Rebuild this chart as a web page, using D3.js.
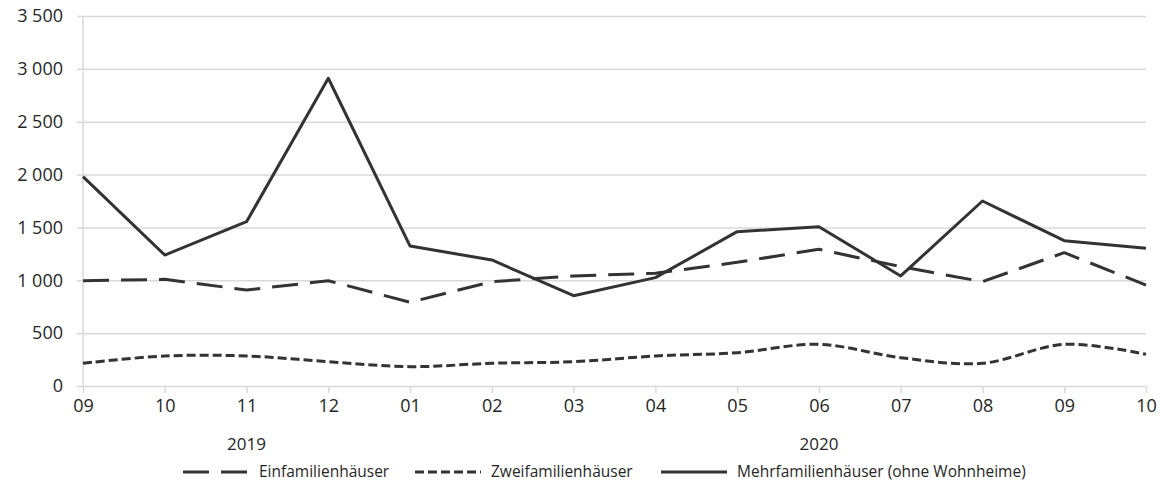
<!DOCTYPE html>
<html>
<head>
<meta charset="utf-8">
<script src="https://cdn.jsdelivr.net/npm/d3@7"></script>
<style>
    body { margin: 0; background: #fff; }
    text { font-family: "Open Sans", sans-serif; fill: #262626; }
</style>
</head>
<body>
<div id="chart"></div>
<script>
var months = ["09", "10", "11", "12", "01", "02", "03", "04", "05", "06", "07", "08", "09", "10"];
var years = [{ label: "2019", at: 2 }, { label: "2020", at: 9 }];
var einfamilien = [996, 1009, 908, 996, 792, 987, 1041, 1066, 1170, 1293, 1129, 987, 1261, 955];
var zweifamilien = [215, 284, 284, 230, 183, 215, 230, 284, 315, 394, 268, 215, 394, 300];
var mehrfamilien = [1980, 1239, 1554, 2911, 1324, 1192, 854, 1025, 1460, 1507, 1041, 1750, 1375, 1302];
var yTicks = [0, 500, 1000, 1500, 2000, 2500, 3000, 3500];

var series = [
    { name: "Einfamilienhäuser", values: einfamilien, dash: "26,12", smooth: false },
    { name: "Zweifamilienhäuser", values: zweifamilien, dash: "9,4", smooth: true },
    { name: "Mehrfamilienhäuser (ohne Wohnheime)", values: mehrfamilien, dash: null, smooth: false },
];

var margin = { top: 16, right: 16, bottom: 104, left: 83 },
    width = 1162 - margin.left - margin.right,
    height = 490 - margin.top - margin.bottom;

var svg = d3
    .select("#chart")
    .append("svg")
    .attr("width", 1162)
    .attr("height", 490)
    .append("g")
    .attr("transform", "translate(" + margin.left + "," + margin.top + ")");

var x = d3
    .scalePoint()
    .domain(d3.range(months.length))
    .range([0, width]);

var y = d3.scaleLinear().domain([0, 3500]).range([height, 0]);

var fmt = (v) => d3.format(",")(v).replace(",", " ");

// horizontal gridlines + y labels
var yAxis = svg
    .append("g")
    .call(
        d3.axisLeft(y)
            .tickValues(yTicks)
            .tickSize(-width - 6)
            .tickPadding(14)
            .tickFormat(fmt)
    );
yAxis.select(".domain").remove();
yAxis.selectAll(".tick line")
    .attr("x1", -6)
    .attr("x2", width)
    .attr("stroke", "#d9d9d9")
    .attr("stroke-width", 1.5);
yAxis.selectAll(".tick text")
    .attr("x", -20)
    .style("font-size", "18px");

// vertical axis line
svg.append("line")
    .attr("x1", 0)
    .attr("x2", 0)
    .attr("y1", 0)
    .attr("y2", height)
    .attr("stroke", "#d9d9d9")
    .attr("stroke-width", 1.5);

var xAxis = svg
    .append("g")
    .attr("transform", "translate(0," + height + ")")
    .call(
        d3.axisBottom(x)
            .tickSize(7)
            .tickPadding(6)
            .tickFormat((i) => months[i])
    );
xAxis.select(".domain").remove();
xAxis.selectAll(".tick line").attr("stroke", "#d9d9d9").attr("stroke-width", 1.5);
xAxis.selectAll(".tick text").style("font-size", "18px");

svg.selectAll(".year")
    .data(years)
    .enter()
    .append("text")
    .attr("class", "year")
    .attr("x", (d) => x(d.at))
    .attr("y", height + 64)
    .attr("text-anchor", "middle")
    .style("font-size", "17px")
    .text((d) => d.label);

series.forEach((s) => {
    var line = d3
        .line()
        .x((d, i) => x(i))
        .y((d) => y(d));
    if (s.smooth) {
        line.curve(d3.curveCatmullRom.alpha(0));
    }
    svg.append("path")
        .datum(s.values)
        .attr("fill", "none")
        .attr("stroke", "#333333")
        .attr("stroke-width", 3)
        .attr("stroke-linejoin", "round")
        .attr("stroke-dasharray", s.dash)
        .attr("d", line);
});

// legend
var legendX = [100, 332, 578];
var legendY = height + 86;
var legend = svg
    .selectAll(".legend")
    .data(series)
    .enter()
    .append("g")
    .attr("class", "legend")
    .attr("transform", (d, i) => "translate(" + legendX[i] + "," + legendY + ")");

legend.append("line")
    .attr("x1", 0)
    .attr("x2", 66)
    .attr("stroke", "#333333")
    .attr("stroke-width", 3)
    .attr("stroke-dasharray", (d) => d.dash);

legend.append("text")
    .attr("x", 76)
    .attr("dy", "0.35em")
    .style("font-size", "15.5px")
    .text((d) => d.name);
</script>
</body>
</html>
